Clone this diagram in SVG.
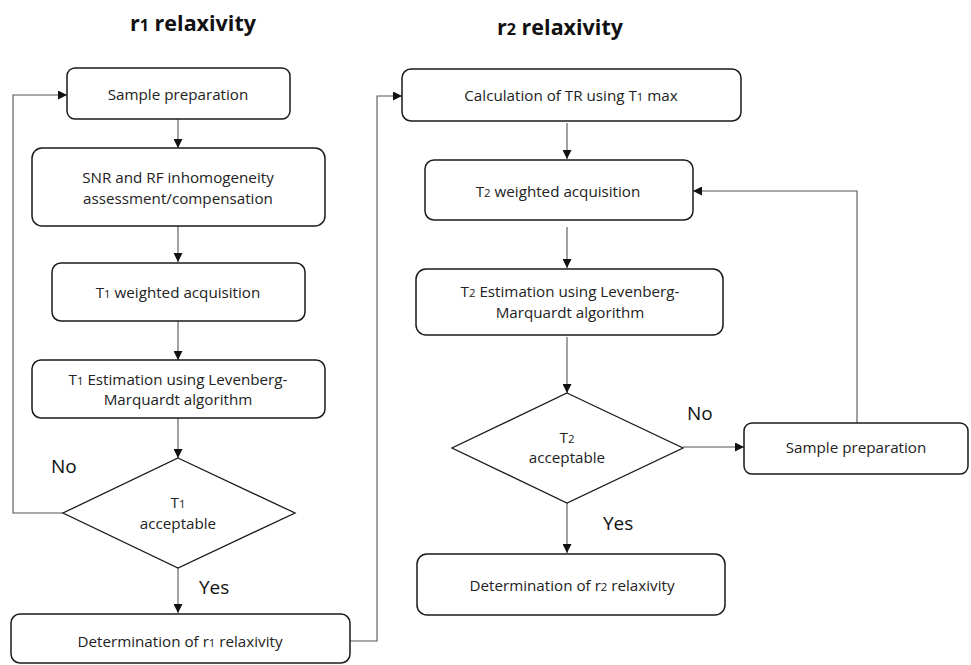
<svg xmlns="http://www.w3.org/2000/svg" width="971" height="665" viewBox="0 0 971 665">
<style>
.box{fill:#fff;stroke:#1a1a1a;stroke-width:1.5}
.dia{fill:#fff;stroke:#1a1a1a;stroke-width:1.3}
.t{font-family:"Open Sans","Liberation Sans",sans-serif;font-size:15.2px;fill:#222;text-anchor:middle}
.lab{font-family:"Open Sans","Liberation Sans",sans-serif;font-size:19px;fill:#111}
.title{font-family:"Open Sans","Liberation Sans",sans-serif;font-size:21.5px;font-weight:bold;fill:#111;text-anchor:middle}
.s{font-size:75%}
.c{fill:none;stroke:#555;stroke-width:1.1}
</style>
<defs>
<marker id="ah" viewBox="0 0 10 10" refX="10" refY="5" markerWidth="9" markerHeight="9" markerUnits="userSpaceOnUse" orient="auto">
<path d="M0,0 L10,5 L0,10 z" fill="#111"/>
</marker>
</defs>
<rect width="971" height="665" fill="#fff"/>
<text class="title" x="193" y="31">r<tspan class="s">1</tspan> relaxivity</text>
<text class="title" x="560" y="35">r<tspan class="s">2</tspan> relaxivity</text>

<g id="connectors">
<path class="c" d="M178,119 V148" marker-end="url(#ah)"/>
<path class="c" d="M178,226 V262" marker-end="url(#ah)"/>
<path class="c" d="M178,321 V360" marker-end="url(#ah)"/>
<path class="c" d="M178,418 V458" marker-end="url(#ah)"/>
<path class="c" d="M178,568 V613" marker-end="url(#ah)"/>
<path class="c" d="M63,513 H13 V95 H67" marker-end="url(#ah)"/>
<path class="c" d="M350,641 H377 V96 H402" marker-end="url(#ah)"/>
<path class="c" d="M567,123 V159" marker-end="url(#ah)"/>
<path class="c" d="M567,227 V268" marker-end="url(#ah)"/>
<path class="c" d="M567,337 V393" marker-end="url(#ah)"/>
<path class="c" d="M683,447 H744" marker-end="url(#ah)"/>
<path class="c" d="M857,423 V191 H693" marker-end="url(#ah)"/>
<path class="c" d="M567,503 V553" marker-end="url(#ah)"/>
</g>

<g id="n1"><rect class="box" x="67" y="68" width="223" height="51" rx="8"/><text class="t" x="178" y="100">Sample preparation</text></g>
<g id="n2"><rect class="box" x="32" y="148" width="293" height="78" rx="10"/><text class="t" x="178" y="183">SNR and RF inhomogeneity</text><text class="t" x="178" y="204">assessment/compensation</text></g>
<g id="n3"><rect class="box" x="52" y="263" width="253" height="58" rx="9"/><text class="t" x="178" y="298">T<tspan class="s">1</tspan> weighted acquisition</text></g>
<g id="n4"><rect class="box" x="32" y="360" width="293" height="58" rx="9"/><text class="t" x="178" y="385">T<tspan class="s">1</tspan> Estimation using Levenberg-</text><text class="t" x="178" y="405">Marquardt algorithm</text></g>
<g id="n5"><polygon class="dia" points="178,458 295,513 178,568 63,513"/><text class="t" x="178" y="508">T<tspan class="s">1</tspan></text><text class="t" x="178" y="529">acceptable</text></g>
<g id="n6"><rect class="box" x="11" y="614" width="339" height="49" rx="9"/><text class="t" x="180" y="647">Determination of r<tspan class="s">1</tspan> relaxivity</text></g>
<text class="lab" x="51" y="473">No</text>
<text class="lab" x="199" y="594">Yes</text>

<g id="n7"><rect class="box" x="402" y="69" width="339" height="52" rx="9"/><text class="t" x="571" y="101">Calculation of TR using T<tspan class="s">1</tspan> max</text></g>
<g id="n8"><rect class="box" x="425" y="160" width="268" height="60" rx="9"/><text class="t" x="558" y="197">T<tspan class="s">2</tspan> weighted acquisition</text></g>
<g id="n9"><rect class="box" x="416" y="269" width="307" height="66" rx="10"/><text class="t" x="570" y="297">T<tspan class="s">2</tspan> Estimation using Levenberg-</text><text class="t" x="570" y="318">Marquardt algorithm</text></g>
<g id="n10"><polygon class="dia" points="567,393 683,448 567,503 452,448"/><text class="t" x="567" y="443">T<tspan class="s">2</tspan></text><text class="t" x="567" y="463">acceptable</text></g>
<g id="n11"><rect class="box" x="744" y="423" width="224" height="51" rx="8"/><text class="t" x="856" y="453">Sample preparation</text></g>
<g id="n12"><rect class="box" x="417" y="554" width="308" height="61" rx="10"/><text class="t" x="572" y="591">Determination of r<tspan class="s">2</tspan> relaxivity</text></g>
<text class="lab" x="687" y="420">No</text>
<text class="lab" x="603" y="530">Yes</text>
</svg>
